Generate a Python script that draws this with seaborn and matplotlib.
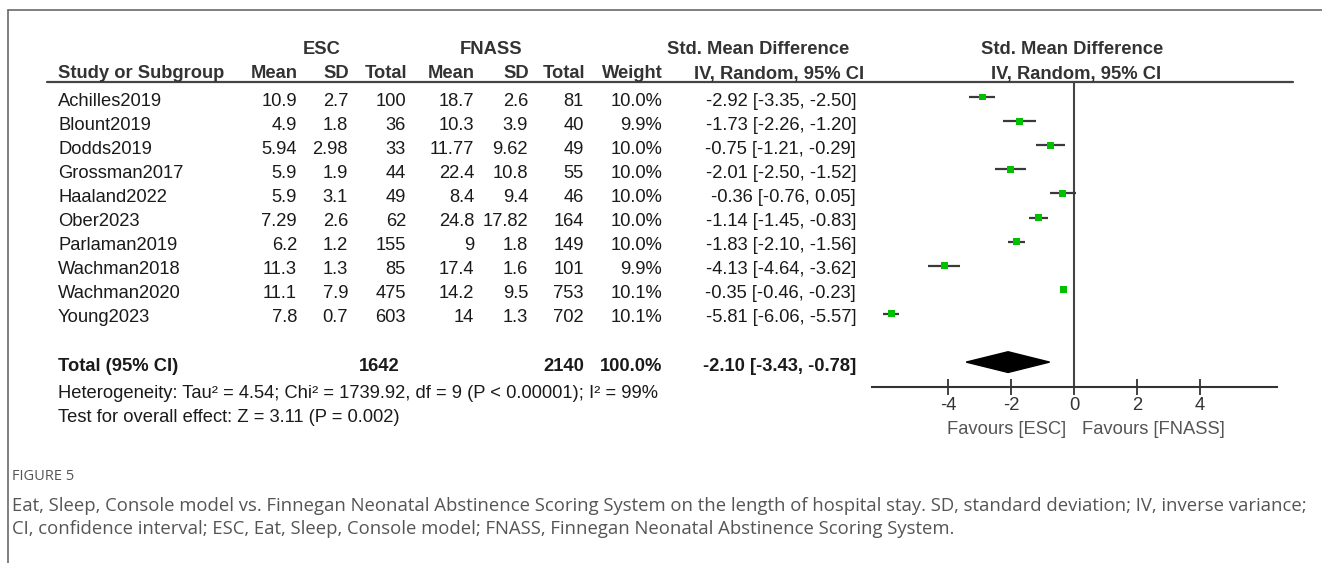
import matplotlib
matplotlib.use("Agg")
import matplotlib.pyplot as plt
import seaborn as sns
import pandas as pd
import numpy as np

# ---- study data -------------------------------------------------------
studies = ["Achilles2019", "Blount2019", "Dodds2019", "Grossman2017", "Haaland2022",
           "Ober2023", "Parlaman2019", "Wachman2018", "Wachman2020", "Young2023"]
esc_mean = [10.9, 4.9, 5.94, 5.9, 5.9, 7.29, 6.2, 11.3, 11.1, 7.8]
esc_sd = [2.7, 1.8, 2.98, 1.9, 3.1, 2.6, 1.2, 1.3, 7.9, 0.7]
esc_n = [100, 36, 33, 44, 49, 62, 155, 85, 475, 603]
fn_mean = [18.7, 10.3, 11.77, 22.4, 8.4, 24.8, 9, 17.4, 14.2, 14]
fn_sd = [2.6, 3.9, 9.62, 10.8, 9.4, 17.82, 1.8, 1.6, 9.5, 1.3]
fn_n = [81, 40, 49, 55, 46, 164, 149, 101, 753, 702]
weight = [10.0, 9.9, 10.0, 10.0, 10.0, 10.0, 10.0, 9.9, 10.1, 10.1]
smd = [-2.92, -1.73, -0.75, -2.01, -0.36, -1.14, -1.83, -4.13, -0.35, -5.81]
ci_lo = [-3.35, -2.26, -1.21, -2.50, -0.76, -1.45, -2.10, -4.64, -0.46, -6.06]
ci_hi = [-2.50, -1.20, -0.29, -1.52, 0.05, -0.83, -1.56, -3.62, -0.23, -5.57]

total_esc_n = 1642
total_fn_n = 2140
total_weight = 100.0
total_smd = -2.10
total_lo = -3.43
total_hi = -0.78

heterogeneity = "Heterogeneity: Tau² = 4.54; Chi² = 1739.92, df = 9 (P < 0.00001); I² = 99%"
overall = "Test for overall effect: Z = 3.11 (P = 0.002)"
x_ticks = [-4, -2, 0, 2, 4]

df = pd.DataFrame({"study": studies, "smd": smd, "lo": ci_lo, "hi": ci_hi,
                   "row": np.arange(len(studies))})

# ---- figure set-up ----------------------------------------------------
W, H = 1322, 563
sns.set_style("white")
plt.rcParams["font.family"] = ["Liberation Sans", "DejaVu Sans"]
fig = plt.figure(figsize=(W / 100, H / 100), dpi=100)

bg = fig.add_axes([0, 0, 1, 1])
bg.set_xlim(0, W)
bg.set_ylim(H, 0)
bg.axis("off")

FS = 13.2
TXT = "#1a1a1a"
HDR = "#333333"

# frame of the figure panel
bg.plot([8, W], [10, 10], color="#6a6a6a", lw=1.2)
bg.plot([8, 8], [10, H], color="#6a6a6a", lw=1.2)

# ---- table ------------------------------------------------------------
def row_y(i):
    return 101 + 24.1 * i

def fmt(v):
    return f"{v:g}"

# headers
bg.text(322, 50, "ESC", ha="center", va="center", fontsize=FS, fontweight="bold", color=HDR)
bg.text(491, 50, "FNASS", ha="center", va="center", fontsize=FS, fontweight="bold", color=HDR)
bg.text(758, 50, "Std. Mean Difference", ha="center", va="center", fontsize=FS, fontweight="bold", color=HDR)
bg.text(1072, 50, "Std. Mean Difference", ha="center", va="center", fontsize=FS, fontweight="bold", color=HDR)

hy = 74
bg.text(58, hy, "Study or Subgroup", ha="left", va="center", fontsize=FS, fontweight="bold", color=HDR)
col_right = {"m1": 297, "s1": 348, "n1": 406, "m2": 474, "s2": 528, "n2": 584, "w": 662}
for key, lab in [("m1", "Mean"), ("s1", "SD"), ("n1", "Total"), ("m2", "Mean"),
                 ("s2", "SD"), ("n2", "Total"), ("w", "Weight")]:
    bg.text(col_right[key] + 1, hy, lab, ha="right", va="center", fontsize=FS,
            fontweight="bold", color=HDR)
bg.text(779, hy, "IV, Random, 95% CI", ha="center", va="center", fontsize=FS, fontweight="bold", color=HDR)
bg.text(1076, hy, "IV, Random, 95% CI", ha="center", va="center", fontsize=FS, fontweight="bold", color=HDR)
bg.plot([47, 1293], [81.5, 81.5], color="#444", lw=1.6)

for i in range(len(studies)):
    y = row_y(i)
    bg.text(58, y, studies[i], ha="left", va="center", fontsize=FS, color=TXT)
    cells = [("m1", fmt(esc_mean[i])), ("s1", fmt(esc_sd[i])), ("n1", str(esc_n[i])),
             ("m2", fmt(fn_mean[i])), ("s2", fmt(fn_sd[i])), ("n2", str(fn_n[i])),
             ("w", f"{weight[i]:.1f}%")]
    for key, s in cells:
        bg.text(col_right[key], y, s, ha="right", va="center", fontsize=FS, color=TXT)
    bg.text(856, y, f"{smd[i]:.2f} [{ci_lo[i]:.2f}, {ci_hi[i]:.2f}]",
            ha="right", va="center", fontsize=FS, color=TXT)

ty = row_y(11)
bg.text(58, ty, "Total (95% CI)", ha="left", va="center", fontsize=FS, fontweight="bold", color=TXT)
bg.text(400, ty, str(total_esc_n), ha="right", va="center", fontsize=FS, fontweight="bold", color=TXT)
bg.text(col_right["n2"], ty, str(total_fn_n), ha="right", va="center", fontsize=FS, fontweight="bold", color=TXT)
bg.text(col_right["w"], ty, f"{total_weight:.1f}%", ha="right", va="center", fontsize=FS, fontweight="bold", color=TXT)
bg.text(856, ty, f"{total_smd:.2f} [{total_lo:.2f}, {total_hi:.2f}]",
        ha="right", va="center", fontsize=FS, fontweight="bold", color=TXT)
bg.text(58, 393, heterogeneity, ha="left", va="center", fontsize=FS, color=TXT)
bg.text(58, 418, overall, ha="left", va="center", fontsize=FS, color=TXT)

# ---- forest panel ------------------------------------------------------
row0_px, step_px = 97, 24.1
top_px, bot_px = 81.5, 387
x0_px, x1_px = 871.7, 1276.7
xlim = (-6.43, 6.43)
ylim = ((bot_px - row0_px) / step_px, (top_px - row0_px) / step_px)

fx = fig.add_axes([x0_px / W, 1 - bot_px / H, (x1_px - x0_px) / W, (bot_px - top_px) / H])
fx.patch.set_alpha(0)
fx.hlines(df["row"], df["lo"], df["hi"], color="#3a3a3a", lw=1.6, zorder=2)
sns.scatterplot(data=df, x="smd", y="row", marker="s", s=24, color="#00c000",
                edgecolor="none", ax=fx, zorder=3, legend=False)

# pooled estimate diamond
d_row = 11
fx.fill([total_lo, total_smd, total_hi, total_smd],
        [d_row, d_row - 0.43, d_row, d_row + 0.43], color="black", zorder=3)
fx.axvline(0, color="#444", lw=1.5, zorder=1)

fx.set_xlim(*xlim)
fx.set_ylim(*ylim)
fx.set_xlabel("")
fx.set_ylabel("")
fx.set_yticks([])
fx.set_xticks(x_ticks)
fx.set_xticklabels([str(t) for t in x_ticks])
for side in ["top", "right", "left"]:
    fx.spines[side].set_visible(False)
fx.spines["bottom"].set_color("#333")
fx.spines["bottom"].set_linewidth(1.5)
fx.tick_params(axis="x", direction="inout", length=12, width=1.3, color="#333",
               labelsize=FS, labelcolor="#333", pad=1, bottom=True)

bg.text(1007, 429, "Favours [ESC]", ha="center", va="center", fontsize=FS, color="#555")
bg.text(1153, 429, "Favours [FNASS]", ha="center", va="center", fontsize=FS, color="#555")

# ---- caption ------------------------------------------------------------
cap_font = ["Open Sans", "DejaVu Sans"]
bg.text(12, 477, "FIGURE 5", ha="left", va="center", fontsize=10.5, color="#555", family=cap_font)
bg.text(12, 506, "Eat, Sleep, Console model vs. Finnegan Neonatal Abstinence Scoring System on the "
        "length of hospital stay. SD, standard deviation; IV, inverse variance;",
        ha="left", va="center", fontsize=13.3, color="#555", family=cap_font)
bg.text(12, 529, "CI, confidence interval; ESC, Eat, Sleep, Console model; FNASS, Finnegan "
        "Neonatal Abstinence Scoring System.",
        ha="left", va="center", fontsize=13.3, color="#555", family=cap_font)

fig.savefig("out.png", dpi=100)
